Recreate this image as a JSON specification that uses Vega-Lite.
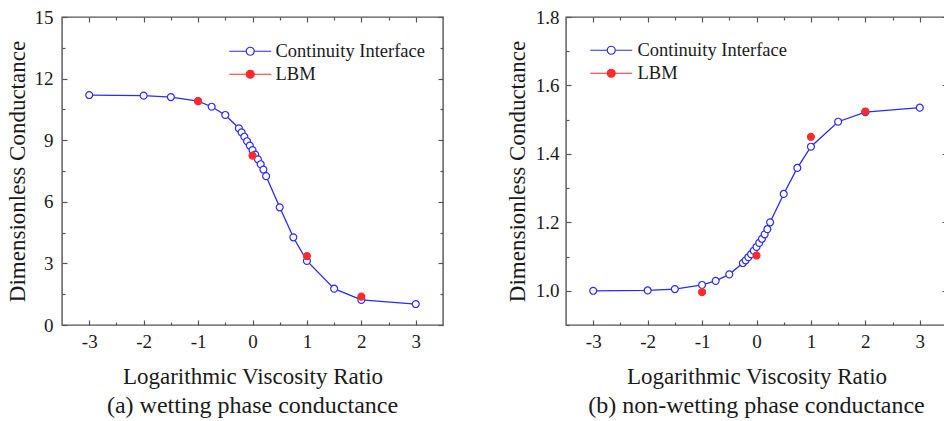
{
  "$schema": "https://vega.github.io/schema/vega-lite/v6.json",
  "padding": {"left": 5, "top": 7, "right": 0, "bottom": 0},
  "bounds": "flush",
  "spacing": 123,
  "datasets": {
    "wetting": [
      {"x": -3, "y": 11.20, "series": "Continuity Interface"},
      {"x": -2, "y": 11.17, "series": "Continuity Interface"},
      {"x": -1.5, "y": 11.10, "series": "Continuity Interface"},
      {"x": -1, "y": 10.90, "series": "Continuity Interface"},
      {"x": -0.75, "y": 10.63, "series": "Continuity Interface"},
      {"x": -0.5, "y": 10.23, "series": "Continuity Interface"},
      {"x": -0.25, "y": 9.58, "series": "Continuity Interface"},
      {"x": -0.2, "y": 9.38, "series": "Continuity Interface"},
      {"x": -0.15, "y": 9.17, "series": "Continuity Interface"},
      {"x": -0.1, "y": 8.95, "series": "Continuity Interface"},
      {"x": -0.05, "y": 8.74, "series": "Continuity Interface"},
      {"x": 0, "y": 8.52, "series": "Continuity Interface"},
      {"x": 0.05, "y": 8.30, "series": "Continuity Interface"},
      {"x": 0.1, "y": 8.07, "series": "Continuity Interface"},
      {"x": 0.15, "y": 7.83, "series": "Continuity Interface"},
      {"x": 0.2, "y": 7.57, "series": "Continuity Interface"},
      {"x": 0.25, "y": 7.25, "series": "Continuity Interface"},
      {"x": 0.5, "y": 5.73, "series": "Continuity Interface"},
      {"x": 0.75, "y": 4.27, "series": "Continuity Interface"},
      {"x": 1, "y": 3.12, "series": "Continuity Interface"},
      {"x": 1.5, "y": 1.77, "series": "Continuity Interface"},
      {"x": 2, "y": 1.22, "series": "Continuity Interface"},
      {"x": 3, "y": 1.02, "series": "Continuity Interface"},
      {"x": -1, "y": 10.90, "series": "LBM"},
      {"x": 0, "y": 8.25, "series": "LBM"},
      {"x": 1, "y": 3.36, "series": "LBM"},
      {"x": 2, "y": 1.38, "series": "LBM"}
    ],
    "nonwetting": [
      {"x": -3, "y": 1.000, "series": "Continuity Interface"},
      {"x": -2, "y": 1.001, "series": "Continuity Interface"},
      {"x": -1.5, "y": 1.005, "series": "Continuity Interface"},
      {"x": -1, "y": 1.017, "series": "Continuity Interface"},
      {"x": -0.75, "y": 1.029, "series": "Continuity Interface"},
      {"x": -0.5, "y": 1.048, "series": "Continuity Interface"},
      {"x": -0.25, "y": 1.081, "series": "Continuity Interface"},
      {"x": -0.2, "y": 1.089, "series": "Continuity Interface"},
      {"x": -0.15, "y": 1.098, "series": "Continuity Interface"},
      {"x": -0.1, "y": 1.107, "series": "Continuity Interface"},
      {"x": -0.05, "y": 1.117, "series": "Continuity Interface"},
      {"x": 0, "y": 1.128, "series": "Continuity Interface"},
      {"x": 0.05, "y": 1.140, "series": "Continuity Interface"},
      {"x": 0.1, "y": 1.152, "series": "Continuity Interface"},
      {"x": 0.15, "y": 1.165, "series": "Continuity Interface"},
      {"x": 0.2, "y": 1.180, "series": "Continuity Interface"},
      {"x": 0.25, "y": 1.200, "series": "Continuity Interface"},
      {"x": 0.5, "y": 1.283, "series": "Continuity Interface"},
      {"x": 0.75, "y": 1.359, "series": "Continuity Interface"},
      {"x": 1, "y": 1.421, "series": "Continuity Interface"},
      {"x": 1.5, "y": 1.494, "series": "Continuity Interface"},
      {"x": 2, "y": 1.522, "series": "Continuity Interface"},
      {"x": 3, "y": 1.535, "series": "Continuity Interface"},
      {"x": -1, "y": 0.996, "series": "LBM"},
      {"x": 0, "y": 1.103, "series": "LBM"},
      {"x": 1, "y": 1.450, "series": "LBM"},
      {"x": 2, "y": 1.524, "series": "LBM"}
    ]
  },
  "resolve": {"scale": {"fill": "independent", "stroke": "independent"}, "legend": {"fill": "independent", "stroke": "independent"}},
  "hconcat": [
    {
      "width": 381,
      "height": 308,
      "data": {"name": "wetting"},
      "title": {"text": "(a) wetting phase conductance", "orient": "bottom", "anchor": "middle", "offset": 6},
      "resolve": {"axis": {"x": "independent", "y": "independent"}},
      "layer": [
        {
          "transform": [{"filter": "datum.series === 'Continuity Interface'"}],
          "mark": {"type": "line", "color": "#2a2aff", "strokeWidth": 1.3},
          "encoding": {
            "x": {"field": "x", "type": "quantitative", "scale": {"domain": [-3.5, 3.5], "nice": false, "zero": false},
              "axis": {"orient": "bottom", "title": "Logarithmic Viscosity Ratio", "values": [-3, -2.5, -2, -1.5, -1, -0.5, 0, 0.5, 1, 1.5, 2, 2.5, 3],
                "labelExpr": "datum.value % 1 === 0 ? toString(datum.value) : ''",
                "labelFont": "Liberation Serif", "titleFont": "Liberation Serif",
                "tickSize": {"condition": {"test": "datum.value % 1 !== 0", "value": -3}, "value": -5},
                "labelPadding": 12, "titlePadding": 14}},
            "y": {"field": "y", "type": "quantitative", "scale": {"domain": [0, 15], "nice": false, "zero": false},
              "axis": {"orient": "left", "title": "Dimensionless Conductance", "values": [0, 1.5, 3, 4.5, 6, 7.5, 9, 10.5, 12, 13.5, 15],
                "labelExpr": "datum.value % 3 === 0 ? toString(datum.value) : ''",
                "labelFont": "Liberation Serif", "titleFont": "Liberation Serif",
                "tickSize": {"condition": {"test": "datum.value % 3 !== 0", "value": -3}, "value": -5},
                "labelPadding": 14, "titlePadding": 5}}
          }
        },
        {
          "mark": {"type": "point", "shape": "circle", "size": 48, "strokeWidth": 1.2, "opacity": 1, "fillOpacity": 1, "strokeOpacity": 1},
          "encoding": {
            "x": {"field": "x", "type": "quantitative",
              "axis": {"orient": "top", "title": null, "labels": false, "values": [-3, -2.5, -2, -1.5, -1, -0.5, 0, 0.5, 1, 1.5, 2, 2.5, 3],
                "tickSize": {"condition": {"test": "datum.value % 1 !== 0", "value": -3}, "value": -5}}},
            "y": {"field": "y", "type": "quantitative",
              "axis": {"orient": "right", "title": null, "labels": false, "values": [0, 1.5, 3, 4.5, 6, 7.5, 9, 10.5, 12, 13.5, 15],
                "tickSize": {"condition": {"test": "datum.value % 3 !== 0", "value": -3}, "value": -5}}},
            "fill": {"field": "series", "type": "nominal",
              "scale": {"domain": ["Continuity Interface", "LBM"], "range": ["#ffffff", "#ff2b2b"]},
              "legend": {"orient": "none", "legendX": 179, "legendY": 25, "title": null,
                "symbolType": "M-3,0H-0.571M0.571,0H3M0.571,0A0.571,0.571 0 1 1 -0.571,0A0.571,0.571 0 1 1 0.571,0",
                "symbolSize": 196, "symbolStrokeWidth": 1.2, "labelOffset": 16, "rowPadding": 4, "padding": 0,
                "labelFont": "Liberation Serif", "labelFontSize": 18.5, "labelColor": "#1a1a1a"}},
            "stroke": {"field": "series", "type": "nominal",
              "scale": {"domain": ["Continuity Interface", "LBM"], "range": ["#2a2aff", "#ff2b2b"]},
              "legend": {"orient": "none", "legendX": 179, "legendY": 25, "title": null,
                "symbolType": "M-3,0H-0.571M0.571,0H3M0.571,0A0.571,0.571 0 1 1 -0.571,0A0.571,0.571 0 1 1 0.571,0",
                "symbolSize": 196, "symbolStrokeWidth": 1.2, "labelOffset": 16, "rowPadding": 4, "padding": 0,
                "labelFont": "Liberation Serif", "labelFontSize": 18.5, "labelColor": "#1a1a1a"}}
          }
        }
      ]
    },
    {
      "width": 381,
      "height": 308,
      "data": {"name": "nonwetting"},
      "title": {"text": "(b) non-wetting phase conductance", "orient": "bottom", "anchor": "middle", "offset": 6},
      "resolve": {"axis": {"x": "independent", "y": "independent"}},
      "layer": [
        {
          "transform": [{"filter": "datum.series === 'Continuity Interface'"}],
          "mark": {"type": "line", "color": "#2a2aff", "strokeWidth": 1.3},
          "encoding": {
            "x": {"field": "x", "type": "quantitative", "scale": {"domain": [-3.5, 3.5], "nice": false, "zero": false},
              "axis": {"orient": "bottom", "title": "Logarithmic Viscosity Ratio", "values": [-3, -2.5, -2, -1.5, -1, -0.5, 0, 0.5, 1, 1.5, 2, 2.5, 3],
                "labelExpr": "datum.value % 1 === 0 ? toString(datum.value) : ''",
                "labelFont": "Liberation Serif", "titleFont": "Liberation Serif",
                "tickSize": {"condition": {"test": "datum.value % 1 !== 0", "value": -3}, "value": -5},
                "labelPadding": 12, "titlePadding": 14}},
            "y": {"field": "y", "type": "quantitative", "scale": {"domain": [0.9, 1.8], "nice": false, "zero": false},
              "axis": {"orient": "left", "title": "Dimensionless Conductance", "values": [0.9, 1.0, 1.1, 1.2, 1.3, 1.4, 1.5, 1.6, 1.7, 1.8],
                "labelExpr": "round(datum.value * 10) % 2 === 0 ? format(datum.value, '.1f') : ''",
                "labelFont": "Liberation Serif", "titleFont": "Liberation Serif",
                "tickSize": {"condition": {"test": "round(datum.value * 10) % 2 !== 0", "value": -3}, "value": -5},
                "labelPadding": 12, "titlePadding": 6}}
          }
        },
        {
          "mark": {"type": "point", "shape": "circle", "size": 48, "strokeWidth": 1.2, "opacity": 1, "fillOpacity": 1, "strokeOpacity": 1},
          "encoding": {
            "x": {"field": "x", "type": "quantitative",
              "axis": {"orient": "top", "title": null, "labels": false, "values": [-3, -2.5, -2, -1.5, -1, -0.5, 0, 0.5, 1, 1.5, 2, 2.5, 3],
                "tickSize": {"condition": {"test": "datum.value % 1 !== 0", "value": -3}, "value": -5}}},
            "y": {"field": "y", "type": "quantitative",
              "axis": {"orient": "right", "title": null, "labels": false, "values": [0.9, 1.0, 1.1, 1.2, 1.3, 1.4, 1.5, 1.6, 1.7, 1.8],
                "tickSize": {"condition": {"test": "round(datum.value * 10) % 2 !== 0", "value": -3}, "value": -5}}},
            "fill": {"field": "series", "type": "nominal",
              "scale": {"domain": ["Continuity Interface", "LBM"], "range": ["#ffffff", "#ff2b2b"]},
              "legend": {"orient": "none", "legendX": 36, "legendY": 24, "title": null,
                "symbolType": "M-3,0H-0.571M0.571,0H3M0.571,0A0.571,0.571 0 1 1 -0.571,0A0.571,0.571 0 1 1 0.571,0",
                "symbolSize": 196, "symbolStrokeWidth": 1.2, "labelOffset": 17, "rowPadding": 4, "padding": 0,
                "labelFont": "Liberation Serif", "labelFontSize": 18.5, "labelColor": "#1a1a1a"}},
            "stroke": {"field": "series", "type": "nominal",
              "scale": {"domain": ["Continuity Interface", "LBM"], "range": ["#2a2aff", "#ff2b2b"]},
              "legend": {"orient": "none", "legendX": 36, "legendY": 24, "title": null,
                "symbolType": "M-3,0H-0.571M0.571,0H3M0.571,0A0.571,0.571 0 1 1 -0.571,0A0.571,0.571 0 1 1 0.571,0",
                "symbolSize": 196, "symbolStrokeWidth": 1.2, "labelOffset": 17, "rowPadding": 4, "padding": 0,
                "labelFont": "Liberation Serif", "labelFontSize": 18.5, "labelColor": "#1a1a1a"}}
          }
        }
      ]
    }
  ],
  "config": {
    "background": "white",
    "view": {"stroke": "#555555", "strokeWidth": 1.4},
    "font": "Liberation Serif",
    "style": {"guide-label": {"font": "Liberation Serif"}, "guide-title": {"font": "Liberation Serif"}},
    "axis": {"domain": false, "grid": false, "tickColor": "#555555", "tickWidth": 1.2,
      "labelFont": "Liberation Serif", "labelFontSize": 19, "labelColor": "#1a1a1a",
      "titleFont": "Liberation Serif", "titleFontSize": 23, "titleFontWeight": "normal", "titleColor": "#1a1a1a"},
    "legend": {"labelFont": "Liberation Serif", "labelFontSize": 18.5, "labelColor": "#1a1a1a"},
    "title": {"font": "Liberation Serif", "fontSize": 24, "fontWeight": "normal", "color": "#1a1a1a"}
  }
}
